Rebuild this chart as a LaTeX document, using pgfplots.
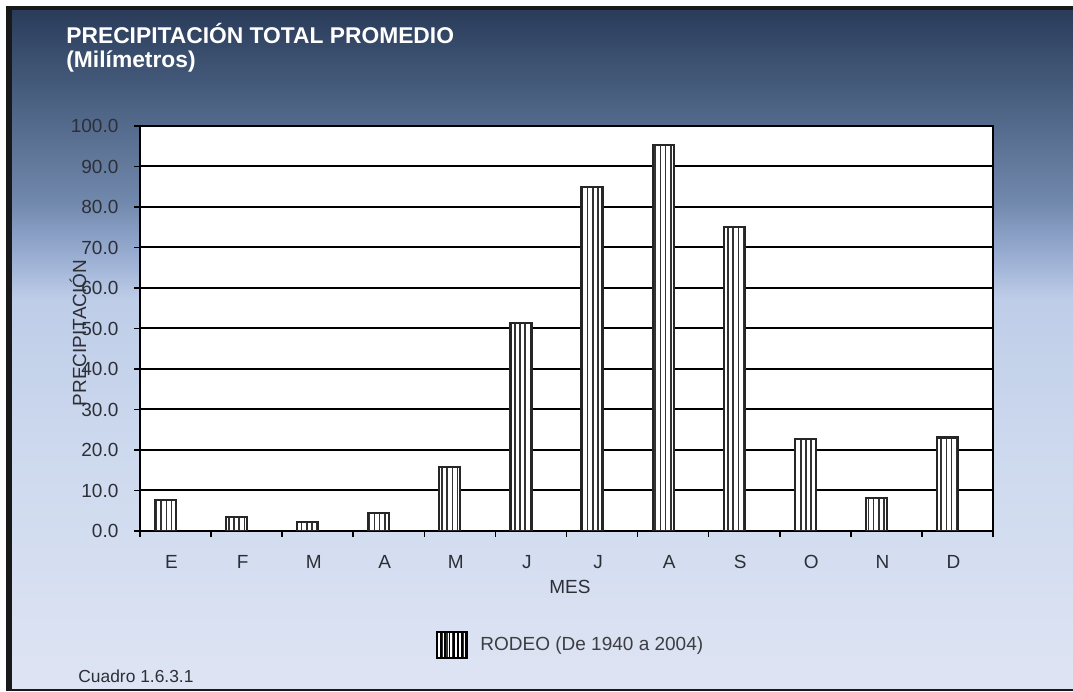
\documentclass[border=0pt]{standalone}
\usepackage{fontspec}
\setmainfont{Liberation Sans}
\usepackage{pgfplots}
\pgfplotsset{compat=1.18}
\usetikzlibrary{patterns,patterns.meta}
\definecolor{tk}{RGB}{45,47,55}
\definecolor{legtxt}{RGB}{60,62,68}
\definecolor{cA}{RGB}{222,228,243}
\definecolor{cB}{RGB}{205,217,238}
\definecolor{cC}{RGB}{190,205,232}
\definecolor{cD}{RGB}{150,170,208}
\definecolor{cE}{RGB}{112,136,172}
\definecolor{cF}{RGB}{75,97,130}
\definecolor{cG}{RGB}{42,60,90}
\pgfdeclareverticalshading{bgshade}{100bp}{color(0bp)=(cA); color(25bp)=(cA); color(42.6bp)=(cB); color(53.7bp)=(cC); color(57.3bp)=(cD); color(61bp)=(cE); color(68.4bp)=(cF); color(75bp)=(cG); color(100bp)=(cG)}
\pgfplotstableread{
x y
0 7.6
1 3.5
2 2.3
3 4.4
4 15.8
5 51.3
6 85.0
7 95.4
8 75.1
9 22.8
10 8.1
11 23.1
}\datatable
\begin{document}
\begin{tikzpicture}
\useasboundingbox (0,0) rectangle (536.5bp,346bp);
\fill[white] (0,0) rectangle (536.5bp,346bp);
\fill[black!90] (3bp,0.6bp) rectangle (536.5bp,343bp);
\shade[shading=bgshade] (6bp,1.6bp) rectangle (536.5bp,340.5bp);
\node[anchor=base west, text=white, font=\bfseries\fontsize{11.4bp}{13bp}\selectfont, inner sep=0] at (33bp,324.3bp) {PRECIPITACIÓN TOTAL PROMEDIO};
\node[anchor=base west, text=white, font=\bfseries\fontsize{11.4bp}{13bp}\selectfont, inner sep=0] at (33bp,312.3bp) {(Milímetros)};
\node[anchor=base west, text=tk, font=\fontsize{8.7bp}{10bp}\selectfont, inner sep=0] at (39bp,4.7bp) {Cuadro 1.6.3.1};
\begin{axis}[
  at={(70bp,80.5bp)}, anchor=south west,
  width=426.5bp, height=202.5bp, scale only axis,
  xmin=-0.5, xmax=11.5, ymin=0, ymax=100,
  axis background/.style={fill=white},
  axis line style={black, line width=1.1bp},
  /pgf/number format/assume math mode=true,
  tick align=outside,
  xtick={0,...,11},
  xticklabels={E,F,M,A,M,J,J,A,S,O,N,D},
  major x tick style={draw=none},
  minor xtick={-0.5,0.5,...,11.5},
  minor tick length=2.8bp,
  minor x tick style={black, line width=0.8bp},
  xtick pos=lower, ytick pos=left,
  ytick={0,10,...,100},
  yticklabel={\pgfmathprintnumber[fixed,fixed zerofill,precision=1]{\tick}},
  major tick length=2.8bp,
  major y tick style={black, line width=0.8bp},
  ymajorgrids,
  major grid style={black, line width=1bp},
  ticklabel style={text=tk, font=\fontsize{9.5bp}{11bp}\selectfont},
  yticklabel style={xshift=-4.5bp},
  xticklabel style={xshift=-2bp, yshift=-6bp},
  xlabel={MES},
  xlabel style={text=tk, font=\fontsize{9.5bp}{11bp}\selectfont, at={(axis description cs:0.504,-0.138)}, anchor=center},
  ylabel={PRECIPITACIÓN},
  ylabel style={text=tk, font=\fontsize{9.5bp}{11bp}\selectfont, at={(axis description cs:-0.0727,0.489)}, anchor=center},
  legend style={at={(axis description cs:0.506,-0.281)}, anchor=center, draw=none, fill=none, text=legtxt, font=\fontsize{9.5bp}{11bp}\selectfont, /tikz/every odd column/.append style={column sep=4bp}},
  legend image code/.code={\draw[fill=white, draw=black, line width=1.2bp, postaction={pattern={Lines[angle=90,distance=2.1bp,line width=0.9bp]}, pattern color=black}] (0bp,-6.5bp) rectangle (15bp,6.5bp);},
]
\addplot[ybar, bar width=10.5bp, bar shift=-5bp, fill=white, draw=black!85, line width=1.1bp,
  postaction={pattern={Lines[angle=90,distance=2.6bp,line width=0.75bp]}, pattern color=black!80}]
  table[x=x,y=y] {\datatable};
\addlegendentry{RODEO (De 1940 a 2004)}
\end{axis}
\end{tikzpicture}
\end{document}
